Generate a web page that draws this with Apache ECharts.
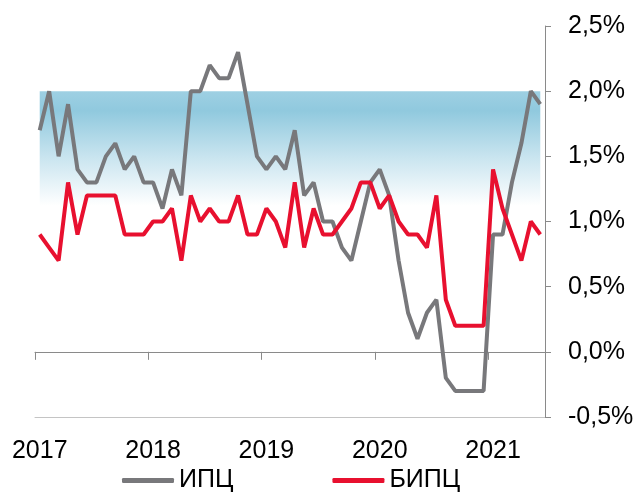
<!DOCTYPE html>
<html>
<head>
<meta charset="utf-8">
<script src="https://cdn.jsdelivr.net/npm/echarts@6/dist/echarts.min.js"></script>
<style>html,body{margin:0;padding:0;background:#fff}#c{width:638px;height:494px}</style>
</head>
<body>
<div id="c"></div>
<script>
// Months Jan 2017 .. Jun 2021
const months = [];
for (let y = 2017; y <= 2021; y++) {
  for (let m = 1; m <= 12; m++) {
    if (y === 2021 && m > 6) break;
    months.push(y + '-' + (m < 10 ? '0' + m : m));
  }
}
const ipc = [1.7,2.0,1.5,1.9,1.4,1.3,1.3,1.5,1.6,1.4,1.5,1.3,
             1.3,1.1,1.4,1.2,2.0,2.0,2.2,2.1,2.1,2.3,1.9,1.5,
             1.4,1.5,1.4,1.7,1.2,1.3,1.0,1.0,0.8,0.7,1.0,1.3,
             1.4,1.2,0.7,0.3,0.1,0.3,0.4,-0.2,-0.3,-0.3,-0.3,-0.3,
             0.9,0.9,1.3,1.6,2.0,1.9];
const bipc = [0.9,0.8,0.7,1.3,0.9,1.2,1.2,1.2,1.2,0.9,0.9,0.9,
              1.0,1.0,1.1,0.7,1.2,1.0,1.1,1.0,1.0,1.2,0.9,0.9,
              1.1,1.0,0.8,1.3,0.8,1.1,0.9,0.9,1.0,1.1,1.3,1.3,
              1.1,1.2,1.0,0.9,0.9,0.8,1.2,0.4,0.2,0.2,0.2,0.2,
              1.4,1.1,0.9,0.7,1.0,0.9];
const targetBand = [1.0, 2.0];
const seriesNames = ['ИПЦ', 'БИПЦ'];

const font = 'Liberation Sans, Arial, sans-serif';
const chart = echarts.init(document.getElementById('c'), null, {renderer: 'canvas'});
chart.setOption({
  animation: false,
  backgroundColor: '#fff',
  grid: {left: 35, right: 93, top: 26, bottom: 77, containLabel: false},
  legend: {
    left: 122, top: 468, padding: 0,
    itemWidth: 52, itemHeight: 5, itemGap: 99,
    textStyle: {fontFamily: font, fontSize: 25, color: '#000'},
    data: seriesNames.map(n => ({name: n, icon: 'roundRect'}))
  },
  xAxis: [
    {
      type: 'category', data: months, boundaryGap: true,
      axisLine: {onZero: true, lineStyle: {color: '#8a8a8a', width: 1}},
      axisTick: {show: true, interval: 11, length: 8, lineStyle: {color: '#8a8a8a'}},
      axisLabel: {show: false},
      splitLine: {show: false}
    },
    {
      type: 'category', data: months, boundaryGap: true, position: 'bottom',
      axisLine: {onZero: false, show: true, lineStyle: {color: '#c4c4c4', width: 1}},
      axisTick: {show: false},
      axisLabel: {interval: 11, margin: 22, fontFamily: font, fontSize: 25, color: '#000',
        formatter: v => v.slice(0, 4)},
      splitLine: {show: false}
    }
  ],
  yAxis: {
    type: 'value', position: 'right', min: -0.5, max: 2.5, interval: 0.5,
    axisLine: {show: true, lineStyle: {color: '#8a8a8a', width: 1}},
    axisTick: {show: true, length: 6, lineStyle: {color: '#8a8a8a'}},
    splitLine: {show: false},
    axisLabel: {margin: 23, fontFamily: font, fontSize: 25, color: '#000', align: 'left',
      formatter: v => v.toFixed(1).replace('.', ',') + '%'}
  },
  series: [
    {
      name: seriesNames[0], type: 'line', data: ipc, xAxisIndex: 0,
      symbol: 'none', lineStyle: {color: '#78787b', width: 4}, itemStyle: {color: '#78787b'},
      z: 3,
      markArea: {
        silent: true,
        itemStyle: {
          color: new echarts.graphic.LinearGradient(0, 0, 0, 1, [
            {offset: 0, color: '#9ed0e3'},
            {offset: 0.15, color: '#90c9de'},
            {offset: 0.5, color: '#c8e4ef'},
            {offset: 0.88, color: '#ffffff'},
            {offset: 1, color: '#ffffff'}
          ])
        },
        data: [[{xAxis: months[0], yAxis: targetBand[1]}, {xAxis: months[months.length - 1], yAxis: targetBand[0]}]]
      }
    },
    {
      name: seriesNames[1], type: 'line', data: bipc, xAxisIndex: 0,
      symbol: 'none', lineStyle: {color: '#e8102f', width: 4}, itemStyle: {color: '#e8102f'},
      z: 4
    }
  ]
});
</script>
</body>
</html>
